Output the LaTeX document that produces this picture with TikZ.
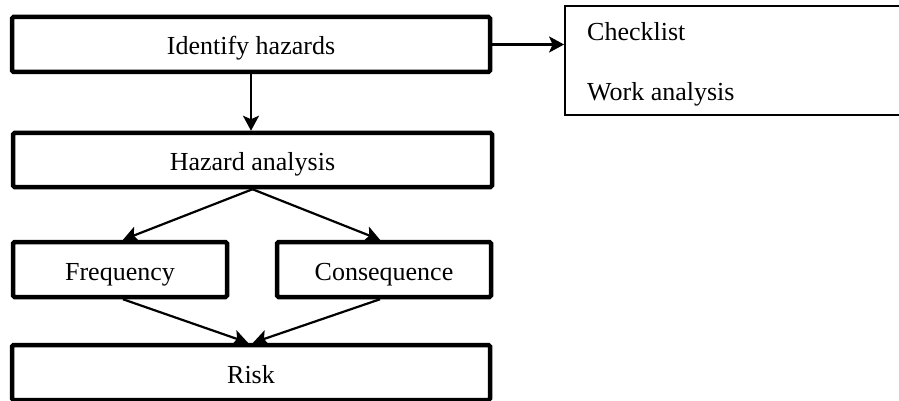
\documentclass[tikz,border=0pt]{standalone}
\usepackage{fontspec}
\setmainfont{Liberation Serif}
\usetikzlibrary{arrows.meta}
\tikzset{
  thickbox/.style={draw=black, line width=4.5pt, rounded corners=1.5pt, inner sep=0pt, text height=21pt, text depth=0pt, font=\fontsize{26}{30}\selectfont},
  thinbox/.style={draw=black, line width=1.8pt, inner sep=0pt},
  plaintext/.style={inner sep=0pt, font=\fontsize{26}{30}\selectfont},
  conn/.style={line width=2.2pt, -{Stealth[length=15pt, width=16pt, inset=3.5pt]}}
}
\begin{document}
\begin{tikzpicture}[x=1pt,y=-1pt]
\useasboundingbox (0,0) rectangle (899,401);
\node[thickbox, minimum width=478pt, minimum height=55pt] (id) at (251,44.5) {Identify hazards};
\node[thickbox, minimum width=479pt, minimum height=54pt] (haz) at (252.5,160) {Hazard analysis};
\node[thickbox, minimum width=214pt, minimum height=55pt] (freq) at (120,269.5) {Frequency};
\node[thickbox, minimum width=214pt, minimum height=55pt] (cons) at (384,269.5) {Consequence};
\node[thickbox, minimum width=478pt, minimum height=55pt] (risk) at (251,372.5) {Risk};
\node[thinbox, minimum width=342pt, minimum height=109pt] (chk) at (736,60.5) {};
\node[plaintext, anchor=base west] (t1) at (587,41) {Checklist};
\node[plaintext, anchor=base west] (t2) at (587,101) {Work analysis};
\draw[conn] (id.south) -- (id.south |- haz.north);
\draw[conn] (id.east) -- (id.east -| chk.west);
\draw[conn] (haz.south) -- ([xshift=3pt]freq.north);
\draw[conn] (haz.south) -- ([xshift=-4pt]cons.north);
\draw[conn] ([xshift=3pt]freq.south) -- ([xshift=-3pt]risk.north);
\draw[conn] ([xshift=-4pt]cons.south) -- ([xshift=2pt]risk.north);
\end{tikzpicture}
\end{document}
